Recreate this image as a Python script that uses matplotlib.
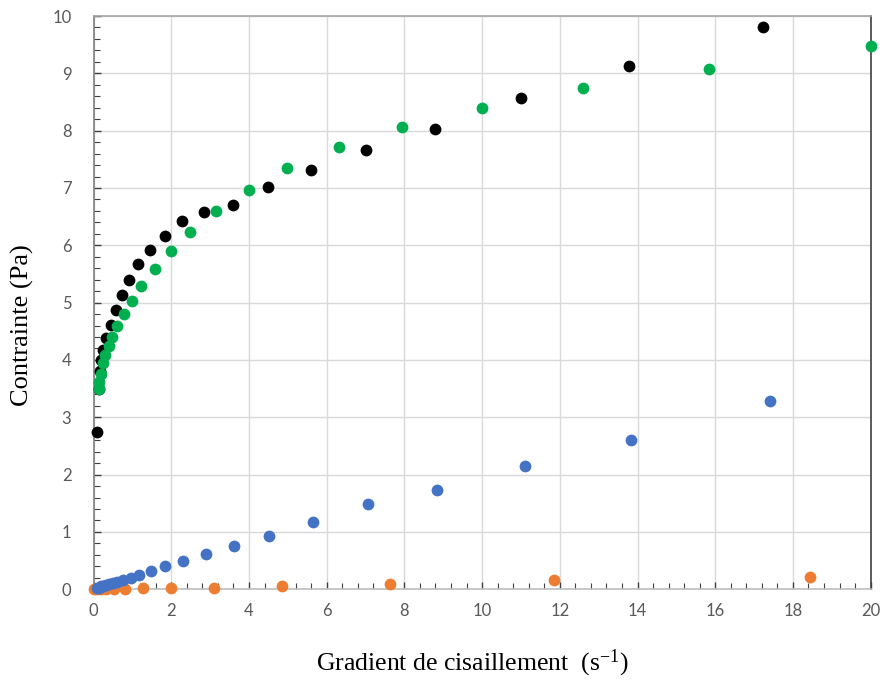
import matplotlib
matplotlib.use("Agg")
import matplotlib.pyplot as plt
from matplotlib.ticker import MultipleLocator

# ----------------------------------------------------------------------
# Data
# ----------------------------------------------------------------------
black_x = [0.10, 0.13, 0.16, 0.20, 0.25, 0.33, 0.45, 0.58, 0.74, 0.92, 1.15, 1.45,
           1.84, 2.27, 2.84, 3.58, 4.48, 5.59, 7.01, 8.79, 11.0, 13.79, 17.24]
black_y = [2.75, 3.50, 3.80, 4.00, 4.18, 4.39, 4.61, 4.87, 5.13, 5.39, 5.67, 5.92,
           6.16, 6.42, 6.58, 6.70, 7.02, 7.31, 7.66, 8.03, 8.57, 9.13, 9.81]

green_x = [0.13, 0.14, 0.18, 0.24, 0.30, 0.40, 0.48, 0.61, 0.78, 0.99, 1.23, 1.57,
           1.98, 2.47, 3.14, 3.99, 4.97, 6.31, 7.94, 10.0, 12.6, 15.85, 20.0]
green_y = [3.49, 3.62, 3.76, 3.94, 4.08, 4.24, 4.40, 4.60, 4.81, 5.03, 5.29, 5.58,
           5.90, 6.23, 6.60, 6.96, 7.35, 7.71, 8.06, 8.39, 8.74, 9.08, 9.48]

blue_x = [0.10, 0.13, 0.16, 0.20, 0.25, 0.31, 0.39, 0.49, 0.61, 0.76, 0.95, 1.18,
          1.48, 1.85, 2.31, 2.89, 3.62, 4.52, 5.65, 7.06, 8.83, 11.1, 13.84, 17.4]
blue_y = [0.02, 0.03, 0.04, 0.05, 0.06, 0.07, 0.09, 0.11, 0.13, 0.16, 0.20, 0.25,
          0.32, 0.40, 0.49, 0.61, 0.75, 0.93, 1.17, 1.48, 1.73, 2.15, 2.60, 3.28]

orange_x = [0.02, 0.10, 0.20, 0.33, 0.52, 0.82, 1.27, 1.98, 3.10, 4.85, 7.63, 11.86, 18.45]
orange_y = [0.00, 0.00, 0.00, 0.00, 0.01, 0.01, 0.02, 0.02, 0.03, 0.05, 0.10, 0.16, 0.21]

x_ticks = [0, 2, 4, 6, 8, 10, 12, 14, 16, 18, 20]
y_ticks = [0, 1, 2, 3, 4, 5, 6, 7, 8, 9, 10]

# ----------------------------------------------------------------------
# Figure
# ----------------------------------------------------------------------
plt.rcParams["mathtext.fontset"] = "custom"
plt.rcParams["mathtext.rm"] = "Liberation Serif"
plt.rcParams["mathtext.it"] = "Liberation Serif:italic"

fig = plt.figure(figsize=(8.83, 6.82), dpi=100)
ax = fig.add_axes([0.106, 0.136, 0.880, 0.8405])

ms = 72
ax.scatter(orange_x, orange_y, s=ms, color="#ED7D31", zorder=3, clip_on=False, linewidths=0)
ax.scatter(blue_x, blue_y, s=ms, color="#4472C4", zorder=4, clip_on=False, linewidths=0)
ax.scatter(black_x, black_y, s=ms, color="#000000", zorder=5, clip_on=False, linewidths=0)
ax.scatter(green_x, green_y, s=ms, color="#00B050", zorder=6, clip_on=False, linewidths=0)

ax.set_xlim(0, 20)
ax.set_ylim(0, 10)
ax.set_xticks(x_ticks)
ax.set_yticks(y_ticks)
ax.xaxis.set_minor_locator(MultipleLocator(0.4))
ax.yaxis.set_minor_locator(MultipleLocator(0.2))

ax.grid(True, which="major", color="#D9D9D9", linewidth=1.0, zorder=0)
ax.set_axisbelow(True)

ax.tick_params(which="both", direction="in", color="#404040")
ax.tick_params(which="major", length=5, width=1.0)
ax.tick_params(which="minor", length=4, width=0.8)
ax.tick_params(axis="y", pad=16)
ax.tick_params(axis="x", pad=10)
for lab in ax.get_xticklabels() + ax.get_yticklabels():
    lab.set_fontfamily("Lato")
    lab.set_fontsize(12)
    lab.set_color("#595959")

ax.spines["left"].set_color("#7F7F7F")
ax.spines["bottom"].set_color("#BFBFBF")
ax.spines["top"].set_color("#A6A6A6")
ax.spines["right"].set_color("#404040")
for sp in ax.spines.values():
    sp.set_linewidth(1.2)

# axis titles
fig.text(472 / 883, 1 - 663 / 682, "Gradient de cisaillement  (s$^{\\mathrm{-1}}$)",
         fontfamily="Liberation Serif", fontsize=18.5, ha="center", va="center")
fig.text(22 / 883, 1 - 325 / 682, "Contrainte (Pa)", fontfamily="Liberation Serif",
         fontsize=19, rotation=90, ha="center", va="center")

plt.savefig("out.png", dpi=100)
